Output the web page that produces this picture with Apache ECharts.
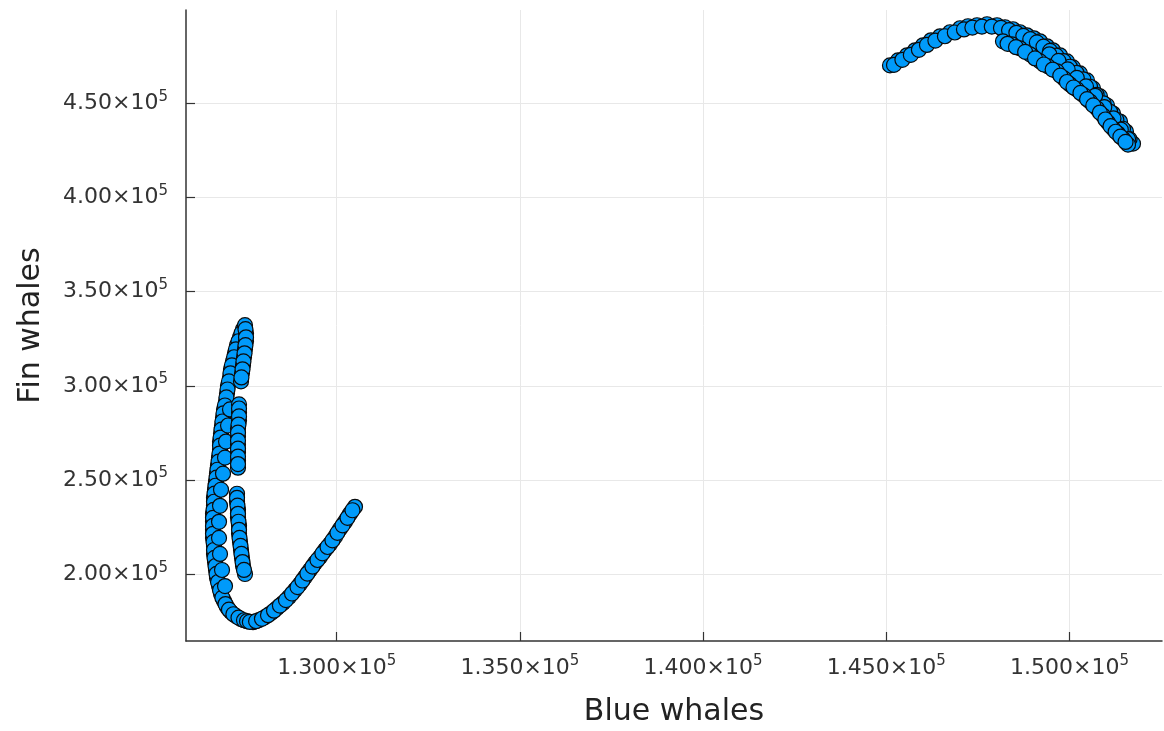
<!DOCTYPE html>
<html>
<head>
<meta charset="utf-8">
<script src="https://cdn.jsdelivr.net/npm/echarts@6/dist/echarts.min.js"></script>
<style>
  html, body { margin: 0; padding: 0; background: #fff; }
  #chart { width: 1164px; height: 731px; }
</style>
</head>
<body>
<div id="chart"></div>
<script>
// tick positions
const xTicks = [130000, 135000, 140000, 145000, 150000]
const yTicks = [200000, 250000, 300000, 350000, 400000, 450000]

// left cluster, outer stroke (top cusp -> down -> bottom bend)
const leftOuter = [
  [127443, 330090], [127361, 325830], [127279, 321570], [127224, 317310], [127170, 313050],
  [127115, 308790], [127088, 304530], [127033, 300270], [127006, 296010], [126979, 291750],
  [126924, 287490], [126897, 283230], [126870, 278970], [126842, 274710], [126815, 270450],
  [126815, 266190], [126788, 261930], [126760, 257670], [126733, 253410], [126706, 249150],
  [126679, 244890], [126651, 240630], [126651, 236370], [126624, 232110], [126624, 227850],
  [126624, 223590], [126624, 219330], [126651, 215070], [126651, 210810], [126679, 206550],
  [126706, 202290], [126733, 198030], [126788, 193770], [126842, 189510], [126924, 185780],
  [127006, 182590], [127115, 179930], [127252, 177800], [127388, 176200]
]
const leftOuterB = [
  [127400, 328000], [127320, 323700], [127250, 319400], [127200, 315200], [127140, 310900],
  [127100, 306700], [127060, 302400], [127020, 298100], [126990, 293900], [126950, 289600],
  [126910, 285400], [126880, 281100], [126855, 276800], [126830, 272600], [126815, 268300],
  [126800, 264100], [126775, 259800], [126745, 255500], [126720, 251300], [126690, 247000],
  [126665, 242800], [126651, 238500], [126638, 234200], [126624, 230000], [126624, 225700],
  [126624, 221500], [126638, 217200], [126651, 212900], [126665, 208700], [126692, 204400],
  [126720, 200200], [126760, 195900], [126815, 191600], [126880, 187600], [126965, 184200],
  [127060, 181200], [127180, 178800], [127320, 177000], [127470, 175600]
]
// second strand that thickens the outer stroke
const leftOuter2 = [
  [127088, 287490], [127034, 278970], [126979, 270450], [126952, 261930], [126897, 253410],
  [126843, 244890], [126815, 236370], [126788, 227850], [126788, 219330], [126815, 210810],
  [126870, 202290], [126952, 193770]
]
// bottom bend and rising branch to the right
const leftRise = [
  [127552, 175130], [127716, 174600], [127879, 175665], [128043, 177260], [128207, 179390],
  [128371, 182055], [128534, 184717], [128698, 187912], [128862, 191640], [128998, 194835],
  [129135, 198562], [129271, 202290], [129408, 206017], [129544, 209212], [129681, 212940],
  [129817, 216135], [129954, 219860], [130090, 224120], [130227, 227850], [130363, 232110],
  [130499, 235837]
]
const leftRiseB = [
  [127630, 174700], [127800, 175100], [127960, 176400], [128125, 178300], [128290, 180700],
  [128450, 183400], [128615, 186300], [128780, 189800], [128930, 193200], [129065, 196700],
  [129200, 200400], [129340, 204100], [129475, 207600], [129610, 211100], [129750, 214500],
  [129885, 218000], [130020, 222000], [130160, 226000], [130295, 230000], [130430, 234000]
]
// inner strand of the left cluster (three pieces)
const leftInner = [
  [127497, 332220], [127525, 327960], [127525, 323700], [127497, 319440], [127470, 315180],
  [127443, 310920], [127415, 306660], [127388, 302400],
  [127334, 290150], [127334, 285890], [127334, 281630], [127306, 277370], [127306, 273110],
  [127306, 268850], [127306, 264590], [127306, 260330], [127306, 256600],
  [127279, 242760], [127279, 238500], [127306, 234240], [127306, 229980], [127334, 225720],
  [127334, 221460], [127361, 217200], [127388, 212940], [127415, 208680], [127443, 204420],
  [127497, 200160]
]
const leftInnerB = [
  [127510, 330100], [127525, 325800], [127510, 321600], [127485, 317300], [127455, 313000],
  [127430, 308800], [127400, 304500],
  [127334, 288000], [127334, 283800], [127320, 279500], [127306, 275200], [127306, 271000],
  [127306, 266700], [127306, 262500], [127306, 258500],
  [127279, 240600], [127292, 236400], [127306, 232100], [127320, 227900], [127334, 223600],
  [127348, 219300], [127375, 215100], [127400, 210800], [127430, 206500], [127470, 202300]
]
// right cluster, upper arc
const rightUpper = [
  [145101, 470137], [145320, 472800], [145565, 475462], [145784, 478125], [146002, 480787],
  [146220, 483450], [146466, 485580], [146739, 487710], [147012, 489840], [147230, 490905],
  [147476, 491437], [147749, 491970], [148022, 491437], [148240, 490372], [148458, 489307],
  [148649, 487710], [148840, 486112], [149031, 484515], [149195, 482917], [149386, 480255],
  [149550, 478125], [149741, 475462], [149932, 472267], [150096, 469072], [150287, 465877],
  [150478, 462150], [150642, 457890], [150833, 453630], [151024, 448837], [151188, 444577],
  [151379, 440317], [151542, 434992], [151733, 428602]
]
const rightUpperB = [
  [145210, 470400], [145440, 473100], [145670, 475700], [145890, 478400], [146110, 481000],
  [146340, 483300], [146600, 485600], [146870, 487600], [147120, 489200], [147350, 490200],
  [147610, 490700], [147880, 490700], [148130, 490000], [148350, 488800], [148550, 487400],
  [148740, 485800], [148930, 484000], [149110, 482300], [149290, 480100], [149470, 477800],
  [149640, 475300], [149840, 472400], [150010, 469400], [150190, 466200], [150380, 462700],
  [150560, 458800], [150740, 454500], [150930, 450000], [151110, 445500], [151280, 441200],
  [151460, 436500], [151640, 431000]
]
// right cluster, lower arc and the strand between the two arcs
const rightLower = [
  [148185, 482917], [148431, 481320], [148649, 479190], [148922, 475995], [149195, 472267],
  [149414, 469605], [149659, 466942], [149850, 463215], [150014, 460020], [150205, 457357],
  [150396, 454162], [150560, 450967], [150751, 447240], [150915, 443512], [151051, 439785],
  [151188, 436590], [151324, 433927], [151461, 431265], [151597, 428070]
]
const rightLowerB = [
  [148310, 481600], [148540, 479800], [148790, 477300], [149060, 473800], [149300, 470600],
  [149540, 467900], [149750, 464700], [149930, 461300], [150110, 458400], [150300, 455500],
  [150480, 452200], [150650, 448900], [150830, 445100], [150980, 441400], [151120, 437900],
  [151260, 434900], [151390, 432300], [151530, 429500]
]
const rightMid = [
  [149450, 476000], [149700, 472500], [149950, 468000], [150200, 463500], [150450, 459000],
  [150700, 454000], [150950, 448000], [151200, 442000], [151400, 436000], [151600, 431000]
]

const points = [].concat(
  leftOuter, leftOuterB, leftOuter2, leftRise, leftRiseB, leftInner, leftInnerB,
  rightUpper, rightUpperB, rightMid, rightLower, rightLowerB
)

function sciLabel(digits) {
  return function (v) {
    return '{b|' + (v / 1e5).toFixed(digits) + '×10}{s|5}'
  }
}

const labelRich = {
  b: { fontSize: 22, color: '#333', fontFamily: 'DejaVu Sans', lineHeight: 28 },
  s: { fontSize: 15, color: '#333', fontFamily: 'DejaVu Sans', verticalAlign: 'top', lineHeight: 15 }
}

const chart = echarts.init(document.getElementById('chart'))
chart.setOption({
  animation: false,
  backgroundColor: '#fff',
  grid: { left: 186, right: 2, top: 10, bottom: 90, containLabel: false, outerBoundsMode: 'none' },
  xAxis: {
    type: 'value',
    min: 125887,
    max: 152525,
    name: 'Blue whales',
    nameLocation: 'middle',
    nameGap: 56,
    nameTextStyle: { fontSize: 30, color: '#222', fontFamily: 'DejaVu Sans' },
    axisLine: { lineStyle: { color: '#333', width: 1.5 } },
    axisTick: { inside: true, length: 9, customValues: xTicks, lineStyle: { color: '#333', width: 1.2 } },
    axisLabel: { customValues: xTicks, formatter: sciLabel(3), rich: labelRich, margin: 13 },
    splitLine: { show: true, lineStyle: { color: '#e8e8e8', width: 1 } }
  },
  yAxis: {
    type: 'value',
    min: 164596,
    max: 499530,
    name: 'Fin whales',
    nameLocation: 'middle',
    nameGap: 140,
    nameTextStyle: { fontSize: 30, color: '#222', fontFamily: 'DejaVu Sans' },
    axisLine: { show: true, lineStyle: { color: '#333', width: 1.5 } },
    axisTick: { show: true, inside: true, length: 9, customValues: yTicks, lineStyle: { color: '#333', width: 1.2 } },
    axisLabel: { customValues: yTicks, formatter: sciLabel(2), rich: labelRich, margin: 18 },
    splitLine: { show: true, lineStyle: { color: '#e8e8e8', width: 1 } }
  },
  series: [{
    type: 'scatter',
    data: points,
    symbol: 'circle',
    symbolSize: 15,
    itemStyle: { color: '#009AFA', borderColor: '#0a0a0a', borderWidth: 1.2, opacity: 1 }
  }]
})
</script>
</body>
</html>
